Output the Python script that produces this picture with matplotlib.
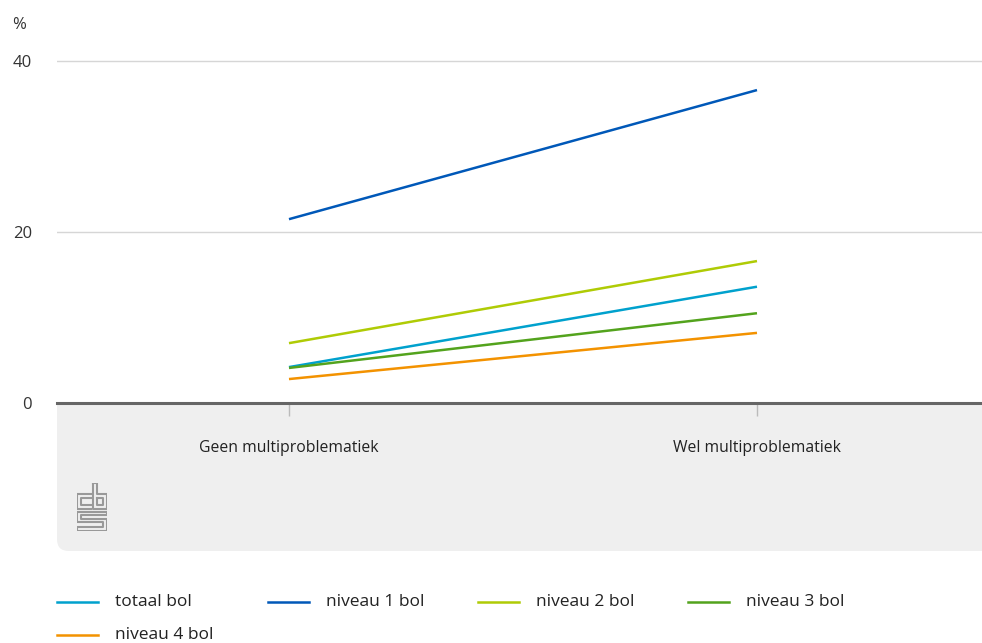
import numpy as np
import matplotlib
matplotlib.use('Agg')
import matplotlib.pyplot as plt
from matplotlib.patches import FancyBboxPatch

plt.rcParams['font.family'] = ['Open Sans', 'DejaVu Sans']

# data
categories = ['Geen multiproblematiek', 'Wel multiproblematiek']
series_names = ['totaal bol', 'niveau 1 bol', 'niveau 2 bol', 'niveau 3 bol', 'niveau 4 bol']
totaal = [4.2, 13.6]
niveau1 = [21.5, 36.6]
niveau2 = [7.0, 16.6]
niveau3 = [4.1, 10.5]
niveau4 = [2.8, 8.2]
colors = ['#00a1cd', '#0058b8', '#afcb05', '#53a31d', '#f39200']
yticks = [0, 20, 40]

W, H = 982, 643
fig = plt.figure(figsize=(W / 100, H / 100), dpi=100)

def fx(px):
    return px / W

def fy(py):
    return 1 - py / H

# grey panel below the zero line
panel = FancyBboxPatch((fx(57), fy(551)), fx(1100 - 57), fy(380) - fy(551),
                       boxstyle='round,pad=0,rounding_size=0.012',
                       transform=fig.transFigure, facecolor='#efefef',
                       edgecolor='none', zorder=-5, mutation_aspect=W / H)
fig.patches.append(panel)

ax = fig.add_axes([fx(57), fy(403), fx(982) - fx(57), fy(50) - fy(403)])
ax.set_facecolor('white')
x = np.arange(len(categories))
for vals, c in zip([totaal, niveau1, niveau2, niveau3, niveau4], colors):
    ax.plot(x, vals, color=c, lw=1.8, solid_capstyle='butt', zorder=3)

ax.set_ylim(0, 40 + 11 / 8.55)
ax.set_xlim(-0.4957, 1.4808)
ax.set_yticks(yticks)
ax.set_xticks(x)
ax.set_xticklabels(categories, fontsize=11.3, color='#222222')
ax.tick_params(axis='y', length=0, pad=18, labelsize=12, labelcolor='#333333')
ax.tick_params(axis='x', length=9, width=1, color='#bbbbbb', pad=18)
ax.yaxis.grid(True, color='#d6d6d6', lw=1)
ax.set_axisbelow(True)
for s in ['top', 'right', 'left']:
    ax.spines[s].set_visible(False)
ax.spines['bottom'].set_color('#666666')
ax.spines['bottom'].set_linewidth(2.2)
ax.spines['bottom'].set_zorder(4)

fig.text(fx(12), fy(25), '%', fontsize=12, color='#333333', va='center', ha='left')

# legend, drawn by hand
leg_pos = [(57, 602), (268, 602), (478, 602), (688, 602), (57, 635)]
for (lx, ly), name, c in zip(leg_pos, series_names, colors):
    fig.add_artist(plt.Line2D([fx(lx), fx(lx + 41)], [fy(ly), fy(ly)],
                              color=c, lw=1.8, transform=fig.transFigure))
    fig.text(fx(lx + 58), fy(ly), name, fontsize=12.5, color='#222222',
             va='center', ha='left')

# small cbs logo
logo = fig.add_axes([fx(77), fy(531), fx(107) - fx(77), fy(483) - fy(531)])
logo.set_xlim(-0.5, 30.5)
logo.set_ylim(52.5, -0.5)
logo.axis('off')
logo_paths = [
    [(14, 12), (0, 12), (0, 28), (14, 28)],
    [(14, 16), (4, 16), (4, 24), (14, 24)],
    [(16, 0), (16, 28), (30, 28), (30, 12), (20, 12), (20, 0), (16, 0)],
    [(20, 16), (26, 16), (26, 24), (20, 24), (20, 16)],
    [(30, 31), (0, 31), (0, 43), (26, 43), (26, 48), (0, 48), (0, 52), (30, 52),
     (30, 39), (4, 39), (4, 35), (30, 35), (30, 31)],
]
for p in logo_paths:
    px, py = zip(*p)
    logo.plot(px, py, color='#999999', lw=1.5)

fig.savefig('out.png', dpi=100)
